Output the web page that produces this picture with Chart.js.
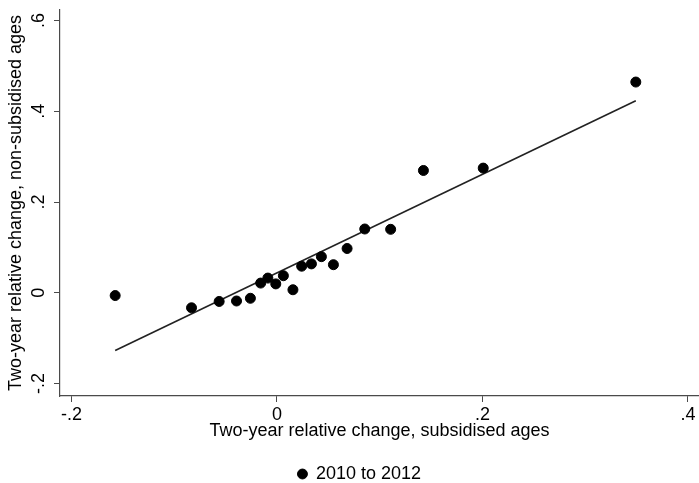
<!DOCTYPE html>
<html>
<head>
<meta charset="utf-8">
<script src="https://cdn.jsdelivr.net/npm/chart.js@4.4.1/dist/chart.umd.min.js"></script>
<style>
  html, body { margin: 0; padding: 0; background: #fff; }
  #wrap { width: 699px; height: 483px; }
</style>
</head>
<body>
<div id="wrap"><canvas id="scatterChart"></canvas></div>
<script>
// Data
const subsidisedChange = [-0.1574, -0.0831, -0.0562, -0.0393, -0.0258, -0.0158, -0.0088, -0.0011, 0.0063, 0.0156,
                          0.0241, 0.0336, 0.0433, 0.0550, 0.0683, 0.0855, 0.1107, 0.1426, 0.2008, 0.3493];
const nonSubsidisedChange = [-0.006, -0.033, -0.019, -0.018, -0.012, 0.0215, 0.0325, 0.0197, 0.0377, 0.0068,
                             0.0587, 0.0638, 0.0797, 0.0620, 0.0977, 0.1407, 0.1400, 0.2697, 0.2749, 0.4646];

// Garis fitted (titik ujung)
const fitX = [-0.1574, 0.3493];
const fitY = [-0.127, 0.4235];

// Label tick
const xTickValues = [-0.2, 0, 0.2, 0.4];
const xTickLabels = ['-.2', '0', '.2', '.4'];
const yTickValues = [-0.2, 0, 0.2, 0.4, 0.6];
const yTickLabels = ['-.2', '0', '.2', '.4', '.6'];

const seriesLabel = '2010 to 2012';
const xTitle = 'Two-year relative change, subsidised ages';
const yTitle = 'Two-year relative change, non-subsidised ages';

const font = { family: 'Liberation Sans, Arial, sans-serif', size: 18 };
const axisColor = '#4a4a4a';

function labelFor(values, labels, v) {
    const i = values.findIndex(t => Math.abs(t - v) < 1e-9);
    return i >= 0 ? labels[i] : '';
}

// Geser legend sedikit ke bawah & kanan supaya posisinya sama dengan gambar
const legendShift = {
    id: 'legendShift',
    afterLayout(chart) {
        if (chart.legend) {
            chart.legend.top += 12;
            chart.legend.bottom += 12;
            chart.legend.left += 10;
            chart.legend.right += 10;
        }
    }
};

const config = {
    type: 'scatter',
    data: {
        datasets: [
            {
                label: seriesLabel,
                data: subsidisedChange.map((x, i) => ({ x: x, y: nonSubsidisedChange[i] })),
                backgroundColor: '#000',
                borderColor: '#000',
                pointRadius: 5,
                pointHoverRadius: 5,
                pointStyle: 'circle'
            },
            {
                label: 'fit',
                data: fitX.map((x, i) => ({ x: x, y: fitY[i] })),
                showLine: true,
                borderColor: '#222',
                borderWidth: 1.6,
                pointRadius: 0,
                fill: false
            }
        ]
    },
    options: {
        responsive: false,
        animation: false,
        layout: { autoPadding: false, padding: { top: 10, right: 0, bottom: 2, left: 0 } },
        plugins: {
            legend: {
                position: 'bottom',
                labels: {
                    usePointStyle: true,
                    boxWidth: 9,
                    boxHeight: 7,
                    color: '#000',
                    font: font,
                    padding: 6,
                    filter: item => item.datasetIndex === 0
                }
            },
            tooltip: { enabled: false }
        },
        scales: {
            x: {
                type: 'linear',
                min: -0.2111,
                max: 0.4108,
                afterBuildTicks: scale => { scale.ticks = xTickValues.map(v => ({ value: v })); },
                afterFit: scale => {
                    const lg = scale.chart.legend ? scale.chart.legend.height : 0;
                    scale.height = 483 - 2 - lg - 396;
                    scale.paddingLeft = 0;
                    scale.paddingRight = 0;
                },
                grid: { drawOnChartArea: false, drawTicks: true, tickLength: 6, color: axisColor, lineWidth: 1 },
                border: { display: true, color: axisColor, width: 1.2 },
                ticks: {
                    color: '#000',
                    font: font,
                    padding: 2,
                    maxRotation: 0,
                    autoSkip: false,
                    callback: v => labelFor(xTickValues, xTickLabels, v)
                },
                title: { display: true, text: xTitle, color: '#000', font: font, padding: { top: 0, bottom: 5 } }
            },
            y: {
                type: 'linear',
                min: -0.2274,
                max: 0.6234,
                afterBuildTicks: scale => { scale.ticks = yTickValues.map(v => ({ value: v })); },
                afterFit: scale => {
                    scale.width = 60;
                    scale.paddingTop = 0;
                    scale.paddingBottom = 0;
                },
                grid: { drawOnChartArea: false, drawTicks: true, tickLength: 6, color: axisColor, lineWidth: 1 },
                border: { display: true, color: axisColor, width: 1.2 },
                ticks: {
                    color: '#000',
                    font: font,
                    padding: 4,
                    minRotation: 90,
                    maxRotation: 90,
                    crossAlign: 'center',
                    autoSkip: false,
                    callback: v => labelFor(yTickValues, yTickLabels, v)
                },
                title: { display: true, text: yTitle, color: '#000', font: font, padding: { top: 5, bottom: 0 } }
            }
        }
    },
    plugins: [legendShift]
};

const canvas = document.getElementById('scatterChart');
canvas.width = 699;
canvas.height = 483;
new Chart(canvas.getContext('2d'), config);
</script>
</body>
</html>
